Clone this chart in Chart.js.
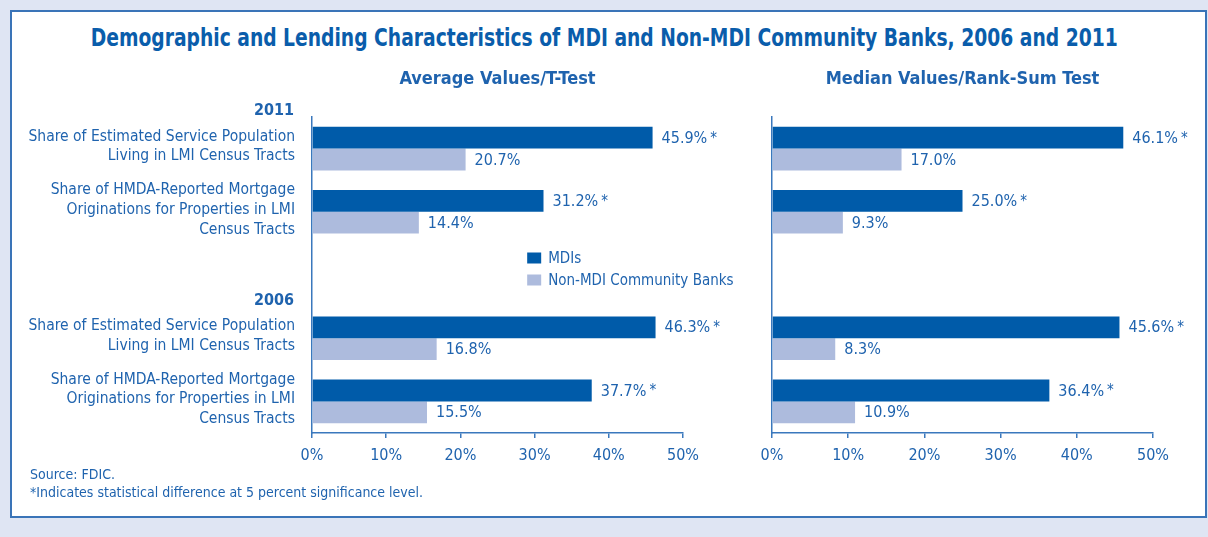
<!DOCTYPE html>
<html>
<head>
<meta charset="utf-8">
<script src="https://cdn.jsdelivr.net/npm/chart.js@4/dist/chart.umd.min.js"></script>
<style>
  html, body { margin: 0; padding: 0; }
  body { width: 1208px; height: 537px; background: #dfe5f3; position: relative; overflow: hidden;
         font-family: 'DejaVu Sans Condensed', 'Roboto', sans-serif; color: #1f63ae; }
  #panel { position: absolute; left: 10px; top: 10px; width: 1193px; height: 504px; background: #fff; border: 2px solid #3a74b8; }
  #titleWrap { position: absolute; left: -196px; top: 23px; width: 1600px; text-align: center; }
  #title { display: inline-block; white-space: nowrap; font-weight: bold; font-size: 25px; color: #0a5dab;
           transform: scaleX(0.832); transform-origin: center; }
  canvas { position: absolute; }
  #avg { left: 12px; top: 60px; }
  #med { left: 750px; top: 60px; }
  .note { position: absolute; left: 30px; font-size: 14px; color: #1f63ae; white-space: nowrap; }
</style>
</head>
<body>
<div id="panel"></div>
<div id="titleWrap"><span id="title">Demographic and Lending Characteristics of MDI and Non-MDI Community Banks, 2006 and 2011</span></div>
<canvas id="avg" width="728" height="408"></canvas>
<canvas id="med" width="448" height="408"></canvas>
<div class="note" style="top:466px">Source: FDIC.</div>
<div class="note" style="top:484px">*Indicates statistical difference at 5 percent significance level.</div>
<script>
// data
const categories = [
    ['Share of Estimated Service Population', 'Living in LMI Census Tracts'],
    ['Share of HMDA-Reported Mortgage', 'Originations for Properties in LMI', 'Census Tracts'],
    '',
    ['Share of Estimated Service Population', 'Living in LMI Census Tracts'],
    ['Share of HMDA-Reported Mortgage', 'Originations for Properties in LMI', 'Census Tracts']
];
const yearHeaders = { 0: '2011', 3: '2006' };
const seriesNames = ['MDIs', 'Non-MDI Community Banks'];
const avgMDI = [45.9, 31.2, null, 46.3, 37.7];
const avgNonMDI = [20.7, 14.4, null, 16.8, 15.5];
const medMDI = [46.1, 25.0, null, 45.6, 36.4];
const medNonMDI = [17.0, 9.3, null, 8.3, 10.9];
const mdiSignificant = [true, true, false, true, true];
const xTicks = [0, 10, 20, 30, 40, 50];

const MDI_COLOR = '#005ba9';
const NON_COLOR = '#adbbdd';
const TEXT = '#1f63ae';
const AXIS = '#3a78bd';
const FONT = "'DejaVu Sans Condensed', 'Roboto', sans-serif";

Chart.defaults.font.family = FONT;
Chart.defaults.color = TEXT;

// value labels at the end of each bar, asterisk for significant MDI values
const valueLabels = {
    id: 'valueLabels',
    afterDatasetsDraw(chart) {
        const ctx = chart.ctx;
        ctx.save();
        ctx.fillStyle = TEXT;
        ctx.textBaseline = 'middle';
        chart.data.datasets.forEach((ds, di) => {
            chart.getDatasetMeta(di).data.forEach((bar, i) => {
                const v = ds.data[i];
                if (v == null) return;
                const txt = v.toFixed(1) + '%';
                ctx.font = '16px ' + FONT;
                ctx.fillText(txt, bar.x + 9, bar.y + 1);
                if (di === 0 && mdiSignificant[i]) {
                    const w = ctx.measureText(txt).width;
                    ctx.font = '15px ' + FONT;
                    ctx.fillText('*', bar.x + 9 + w + 3, bar.y + 1);
                }
            });
        });
        ctx.restore();
    }
};

// panel subtitle centred over the plot area
const panelTitle = {
    id: 'panelTitle',
    afterDraw(chart, args, opts) {
        const ctx = chart.ctx, a = chart.chartArea;
        ctx.save();
        ctx.font = 'bold 18px ' + FONT;
        ctx.fillStyle = TEXT;
        ctx.textAlign = 'center';
        ctx.textBaseline = 'middle';
        ctx.fillText(opts.text, (a.left + a.right) / 2, 19);
        ctx.restore();
    }
};

// year headers and legend, only on the left chart
const groupExtras = {
    id: 'groupExtras',
    afterDraw(chart, args, opts) {
        if (!opts.show) return;
        const ctx = chart.ctx, y = chart.scales.y, x = chart.scales.x;
        const slot = (y.bottom - y.top) / categories.length;
        ctx.save();
        ctx.fillStyle = TEXT;
        ctx.font = 'bold 16px ' + FONT;
        ctx.textAlign = 'right';
        ctx.textBaseline = 'middle';
        Object.keys(yearHeaders).forEach(k => {
            const top = y.getPixelForValue(+k) - slot / 2;
            ctx.fillText(yearHeaders[k], y.right - 18, top - 6);
        });
        // legend in the empty slot
        const cy = y.getPixelForValue(2);
        const lx = x.getPixelForValue(29);
        const colors = [MDI_COLOR, NON_COLOR];
        ctx.textAlign = 'left';
        ctx.font = '15px ' + FONT;
        seriesNames.forEach((n, i) => {
            const iy = cy - 17 + i * 22;
            ctx.fillStyle = colors[i];
            ctx.fillRect(lx, iy - 5.5, 14, 11);
            ctx.fillStyle = TEXT;
            ctx.fillText(n, lx + 21, iy + 1);
        });
        ctx.restore();
    }
};

function makeChart(id, mdi, non, title, showLabels, axisWidth, padRight) {
    return new Chart(document.getElementById(id), {
        type: 'bar',
        data: {
            labels: categories,
            datasets: [
                { label: seriesNames[0], data: mdi, backgroundColor: MDI_COLOR },
                { label: seriesNames[1], data: non, backgroundColor: NON_COLOR }
            ]
        },
        options: {
            indexAxis: 'y',
            responsive: false,
            animation: false,
            events: [],
            layout: { padding: { top: 57, right: padRight, left: 0, bottom: 0 } },
            datasets: { bar: { categoryPercentage: 0.69, barPercentage: 1.0 } },
            plugins: {
                legend: { display: false },
                tooltip: { enabled: false },
                panelTitle: { text: title },
                groupExtras: { show: showLabels }
            },
            scales: {
                x: {
                    min: 0, max: 50,
                    afterBuildTicks: s => { s.ticks = xTicks.map(v => ({ value: v })); },
                    afterFit: s => { s.height = 35; },
                    grid: { drawOnChartArea: false, drawTicks: true, tickLength: 5, color: AXIS, lineWidth: 1.5 },
                    border: { display: true, color: AXIS, width: 1.5 },
                    ticks: { color: TEXT, font: { size: 16 }, padding: 8, callback: v => v + '%' }
                },
                y: {
                    afterFit: s => { s.width = axisWidth; },
                    grid: { display: false },
                    border: { display: true, color: AXIS, width: 1.5 },
                    ticks: {
                        display: showLabels, color: TEXT, padding: 9, labelOffset: -2,
                        font: { size: 15.5, lineHeight: 1.27 }
                    }
                }
            }
        },
        plugins: [valueLabels, panelTitle, groupExtras]
    });
}

makeChart('avg', avgMDI, avgNonMDI, 'Average Values/T-Test', true, 300, 57);
makeChart('med', medMDI, medNonMDI, 'Median Values/Rank-Sum Test', false, 22, 45);
</script>
</body>
</html>
